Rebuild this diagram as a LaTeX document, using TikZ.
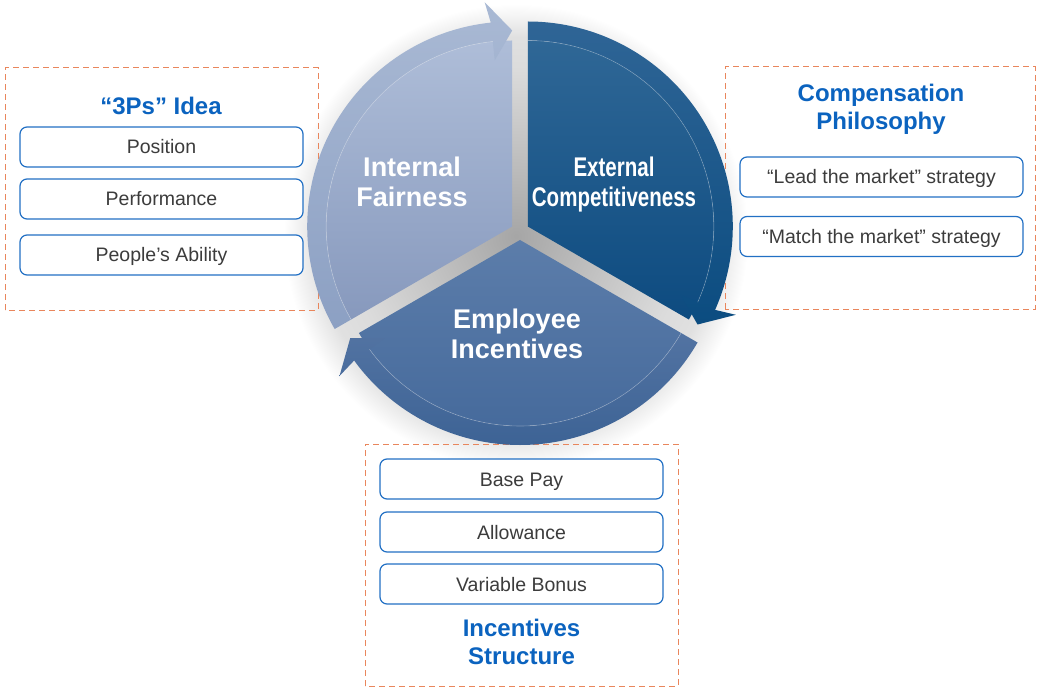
\documentclass[tikz,border=0pt]{standalone}
\usepackage{fontspec}
\setmainfont{Liberation Sans}
\usepackage{graphicx}
\definecolor{lite1}{HTML}{AEBDD8}
\definecolor{lite2}{HTML}{8799BD}
\definecolor{lite3}{HTML}{A9B9D4}
\definecolor{lite4}{HTML}{8CA0C3}
\definecolor{dark1}{HTML}{2F6796}
\definecolor{dark2}{HTML}{0D4B80}
\definecolor{dark3}{HTML}{2F6596}
\definecolor{dark4}{HTML}{0B4C80}
\definecolor{mid1}{HTML}{5C7DAA}
\definecolor{mid2}{HTML}{43689A}
\definecolor{mid3}{HTML}{5273A2}
\definecolor{mid4}{HTML}{3D6395}
\definecolor{titleblue}{HTML}{0B63BF}
\definecolor{boxblue}{HTML}{2270C4}
\definecolor{dashorange}{HTML}{E9865C}
\definecolor{txtgray}{HTML}{3C3C3C}
\pgfdeclareradialshading{halo}{\pgfpoint{0bp}{0bp}}{color(0bp)=(black!35);
  color(18bp)=(black!14); color(21.5bp)=(black!12); color(25bp)=(white); color(50bp)=(white)}
\tikzset{
  grp/.style={draw=dashorange, dash pattern=on 6pt off 4pt, line width=1pt},
  item/.style={draw=boxblue, fill=white, line width=1.2pt, rounded corners=7pt,
    minimum width=283pt, minimum height=40pt, inner sep=0pt,
    text height=14pt, text depth=0pt, text=txtgray, font=\fontsize{19.5}{22}\selectfont},
  ttl/.style={text=titleblue, align=center, font=\fontsize{24}{28}\selectfont\bfseries, text depth=0pt},
  seg/.style={text=white, align=center, font=\fontsize{27}{30}\selectfont\bfseries,
    text height=49pt, text depth=0pt}
}

\begin{document}
\begin{tikzpicture}[x=1pt,y=1pt]
    \useasboundingbox (0,0) rectangle (1040,689);
    \coordinate (C) at (520,458);
    \shade[shading=halo] ([shift={(-4,-5)}]C) circle (232);

    \draw[grp] (5,379) rectangle (318,621);
    \draw[grp] (725,380) rectangle (1035,622);
    \draw[grp] (365,3) rectangle (678,245);

    % three segments with their arrows
    \foreach \b/\s/\n in {150/210/lite, 30/90/dark, 270/-30/mid}
    {
      \begin{scope}[shift={(C)}, shift={(\b:9)}]
        \shade[top color=\n1, bottom color=\n2] (0,0) -- (\s:186)
          arc[start angle=\s, end angle=\s-120, radius=186] -- cycle;
        \shade[top color=\n3, bottom color=\n4] (\s:205)
          arc[start angle=\s, end angle=\s-114, radius=205]
          -- ({\s-113}:226) -- ({\s-120}:196) -- ({\s-114}:167) -- ({\s-114}:186)
          arc[start angle=\s-114, end angle=\s, radius=186] -- cycle;
        \draw[white, opacity=0.3, line width=0.6pt] (\s:186)
          arc[start angle=\s, end angle=\s-114, radius=186];
      \end{scope}
    }

    \node[seg] (IF) at (412,507) {Internal\\Fairness};
    \node[seg] (EC) at (614,507) {\scalebox{0.76}[1]{External}\\\scalebox{0.76}[1]{Competitiveness}};
    \node[seg] (EI) at (517,355) {Employee\\Incentives};

    \node[ttl, text height=17pt] (T1) at (161,583) {“3Ps” Idea};
    \node[ttl, text height=45pt] (T2) at (881,582) {Compensation\\Philosophy};
    \node[ttl, text height=45pt] (T3) at (521.5,47.5) {Incentives\\Structure};

    \foreach \t/\y [count=\i] in {Position/542, Performance/490, People’s Ability/434}
    {
      \node[item] (P\i) at (161.5,\y) {\t};
    }
    \foreach \t/\y [count=\i] in {“Lead the market” strategy/512, “Match the market” strategy/452.5}
    {
      \node[item] (S\i) at (881.5,\y) {\t};
    }
    \foreach \t/\y [count=\i] in {Base Pay/210, Allowance/157, Variable Bonus/105}
    {
      \node[item] (B\i) at (521.5,\y) {\t};
    }
\end{tikzpicture}
\end{document}
